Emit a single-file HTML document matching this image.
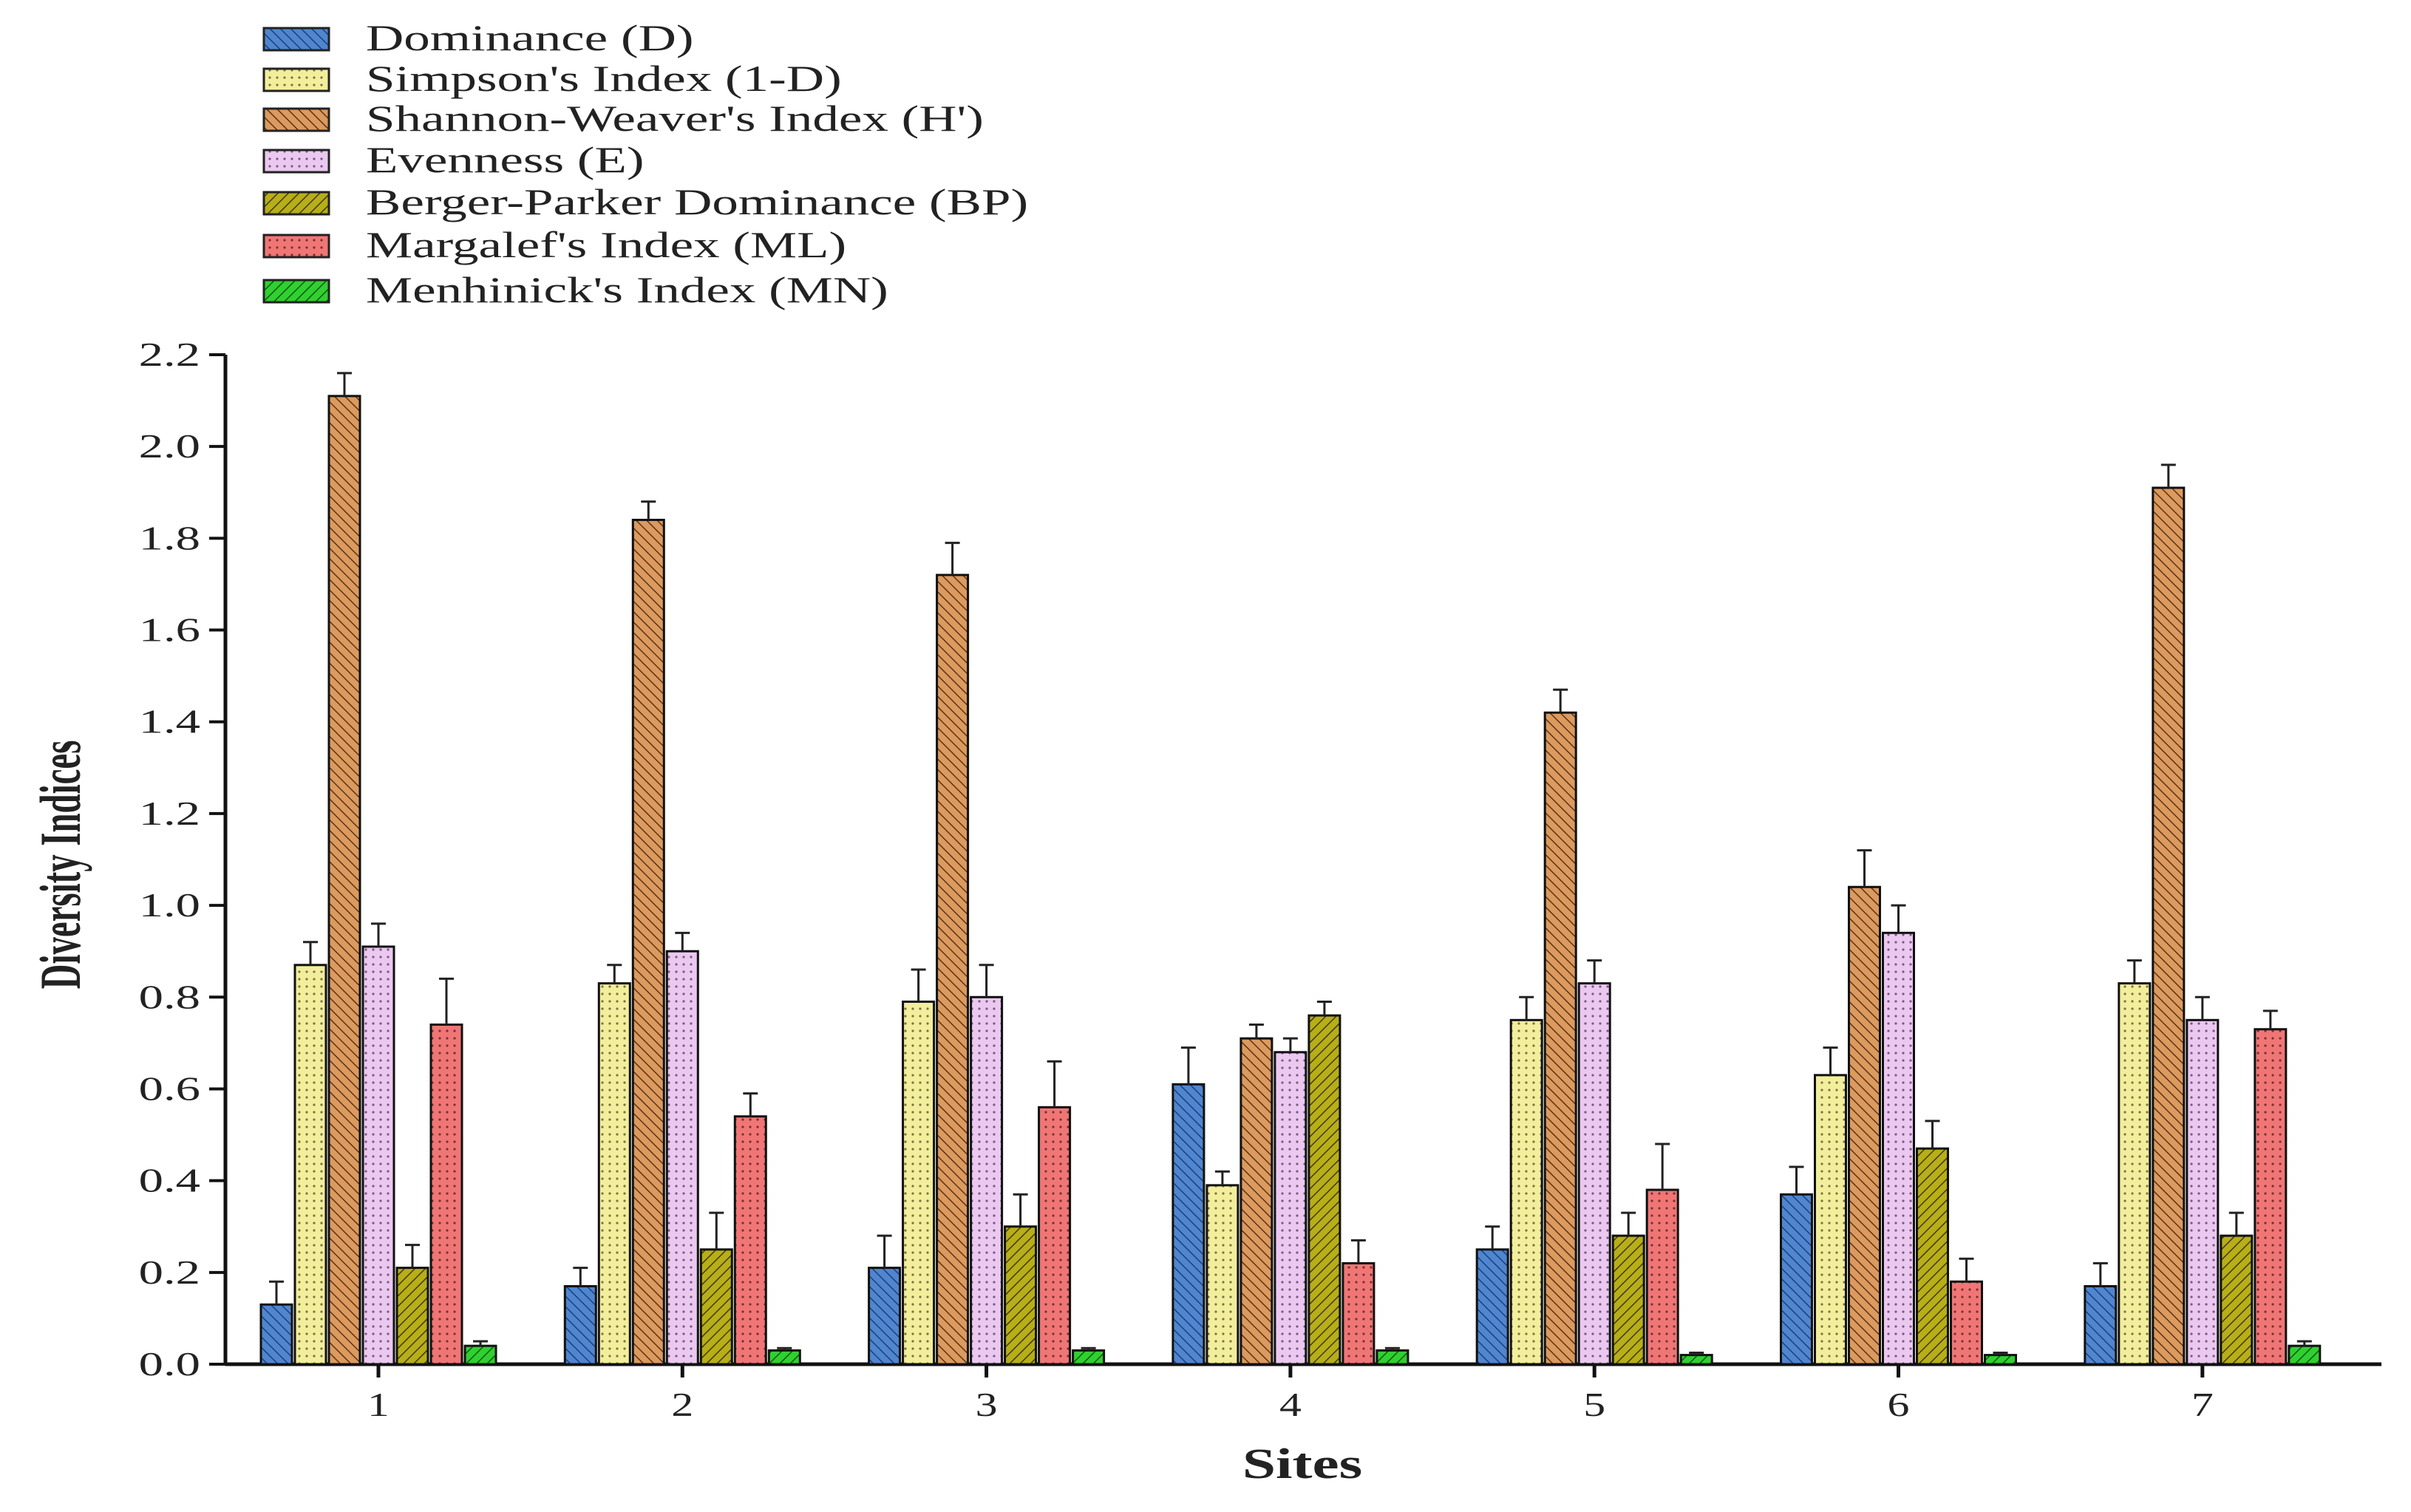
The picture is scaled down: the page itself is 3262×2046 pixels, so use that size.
<!DOCTYPE html>
<html><head><meta charset="utf-8">
<style>
html,body{margin:0;padding:0;background:#fff;}
svg{display:block;}
text{font-family:"Liberation Serif",serif;fill:#222;}
</style></head>
<body>
<svg id="chart" width="3262" height="2046" viewBox="0 0 3262 2046" xmlns="http://www.w3.org/2000/svg">
<defs>
<pattern id="p0" patternUnits="userSpaceOnUse" width="10" height="10" patternTransform="rotate(-45)"><rect width="10" height="10" fill="#4f86cf"/><line x1="0" y1="0" x2="0" y2="10" stroke="#1d3f7a" stroke-width="3"/></pattern>
<pattern id="p1" patternUnits="userSpaceOnUse" width="10" height="10"><rect width="10" height="10" fill="#f2ee9c"/><circle cx="5" cy="5" r="1.6" fill="#7a7440"/></pattern>
<pattern id="p2" patternUnits="userSpaceOnUse" width="10" height="10" patternTransform="rotate(-45)"><rect width="10" height="10" fill="#dc9a5e"/><line x1="0" y1="0" x2="0" y2="10" stroke="#5a3418" stroke-width="3"/></pattern>
<pattern id="p3" patternUnits="userSpaceOnUse" width="10" height="10"><rect width="10" height="10" fill="#ebc8f0"/><circle cx="5" cy="5" r="1.6" fill="#7a5a80"/></pattern>
<pattern id="p4" patternUnits="userSpaceOnUse" width="10" height="10" patternTransform="rotate(45)"><rect width="10" height="10" fill="#b8ae18"/><line x1="0" y1="0" x2="0" y2="10" stroke="#3e3a08" stroke-width="3"/></pattern>
<pattern id="p5" patternUnits="userSpaceOnUse" width="10" height="10"><rect width="10" height="10" fill="#f07676"/><circle cx="5" cy="5" r="1.6" fill="#7a3030"/></pattern>
<pattern id="p6" patternUnits="userSpaceOnUse" width="10" height="10" patternTransform="rotate(45)"><rect width="10" height="10" fill="#30d030"/><line x1="0" y1="0" x2="0" y2="10" stroke="#0e5a0e" stroke-width="3"/></pattern>
</defs>
<g id="legend"></g>
<g id="axes"></g>
<g id="bars"></g>
<text transform="translate(108,1170) rotate(-90) scale(0.6,1)" text-anchor="middle" font-size="78" font-weight="bold">Diversity Indices</text>
<text transform="translate(1762,2000) scale(1.4,1)" text-anchor="middle" font-size="58" font-weight="bold">Sites</text>
</svg>
<script>
const sites = ["1","2","3","4","5","6","7"];
const seriesNames = ["Dominance (D)","Simpson's Index (1-D)","Shannon-Weaver's Index (H')","Evenness (E)","Berger-Parker Dominance (BP)","Margalef's Index (ML)","Menhinick's Index (MN)"];
const dominance = [0.13,0.17,0.21,0.61,0.25,0.37,0.17];
const simpson = [0.87,0.83,0.79,0.39,0.75,0.63,0.83];
const shannon = [2.11,1.84,1.72,0.71,1.42,1.04,1.91];
const evenness = [0.91,0.90,0.80,0.68,0.83,0.94,0.75];
const bergerParker = [0.21,0.25,0.30,0.76,0.28,0.47,0.28];
const margalef = [0.74,0.54,0.56,0.22,0.38,0.18,0.73];
const menhinick = [0.04,0.03,0.03,0.03,0.02,0.02,0.04];
const errDominance = [0.05,0.04,0.07,0.08,0.05,0.06,0.05];
const errSimpson = [0.05,0.04,0.07,0.03,0.05,0.06,0.05];
const errShannon = [0.05,0.04,0.07,0.03,0.05,0.08,0.05];
const errEvenness = [0.05,0.04,0.07,0.03,0.05,0.06,0.05];
const errBergerParker = [0.05,0.08,0.07,0.03,0.05,0.06,0.05];
const errMargalef = [0.10,0.05,0.10,0.05,0.10,0.05,0.04];
const errMenhinick = [0.01,0.005,0.005,0.005,0.005,0.005,0.01];
const yTicks = ["0.0","0.2","0.4","0.6","0.8","1.0","1.2","1.4","1.6","1.8","2.0","2.2"];

const NS="http://www.w3.org/2000/svg";
const series=[dominance,simpson,shannon,evenness,bergerParker,margalef,menhinick];
const errs=[errDominance,errSimpson,errShannon,errEvenness,errBergerParker,errMargalef,errMenhinick];
const X0=305, X1=3222, Y0=1846, YTOP=480, YMAX=2.2;
const y=v=>Y0-(v/YMAX)*(Y0-YTOP);
const cx=i=>512+i*411.3;
const pitch=46, bw=42;
function mk(tag,attrs,parent){const e=document.createElementNS(NS,tag);for(const k in attrs)e.setAttribute(k,attrs[k]);parent.appendChild(e);return e;}
const axes=document.getElementById('axes'), bars=document.getElementById('bars'), legend=document.getElementById('legend');

// legend
const legY=[52,107,161,217,274,332,393];
seriesNames.forEach((n,k)=>{
  const g=mk('g',{},legend);
  
  
  mk('rect',{x:357,y:legY[k]-14,width:88,height:30,fill:'url(#p'+k+')',stroke:'#222','stroke-width':3},g);
  const t=mk('text',{transform:`translate(495,${legY[k]+16}) scale(1.42,1)`,'font-size':50},g);
  t.textContent=n;
});

// bars
series.forEach((vals,k)=>{
  vals.forEach((v,i)=>{
    const x=cx(i)+(k-3)*pitch-bw/2;
    const r=mk('rect',{x:x,y:y(v),width:bw,height:Y0-y(v),fill:'url(#p'+k+')',stroke:'#111','stroke-width':3},bars);
    
    
    const ex=x+bw/2, top=y(v+errs[k][i]);
    const e=mk('path',{d:`M${ex},${y(v)}V${top}M${ex-10},${top}H${ex+10}`,stroke:'#222','stroke-width':3,fill:'none'},bars);
    
    
  });
});

// axes
const ya=mk('line',{x1:X0,y1:YTOP,x2:X0,y2:Y0+2,stroke:'#111','stroke-width':5},axes);


const xa=mk('line',{x1:X0,y1:Y0,x2:X1,y2:Y0,stroke:'#111','stroke-width':5},axes);


yTicks.forEach(t=>{
  const v=parseFloat(t);
  mk('line',{x1:X0-22,y1:y(v),x2:X0,y2:y(v),stroke:'#111','stroke-width':4},axes);
  const tx=mk('text',{transform:`translate(${X0-34},${y(v)+15}) scale(1.45,1)`,'text-anchor':'end','font-size':46},axes);
  
  
  tx.textContent=t;
});
sites.forEach((s,i)=>{
  mk('line',{x1:cx(i),y1:Y0,x2:cx(i),y2:Y0+18,stroke:'#111','stroke-width':5},axes);
  const tx=mk('text',{transform:`translate(${cx(i)},${Y0+70}) scale(1.3,1)`,'text-anchor':'middle','font-size':46},axes);
  
  
  tx.textContent=s;
});
</script>
</body></html>
